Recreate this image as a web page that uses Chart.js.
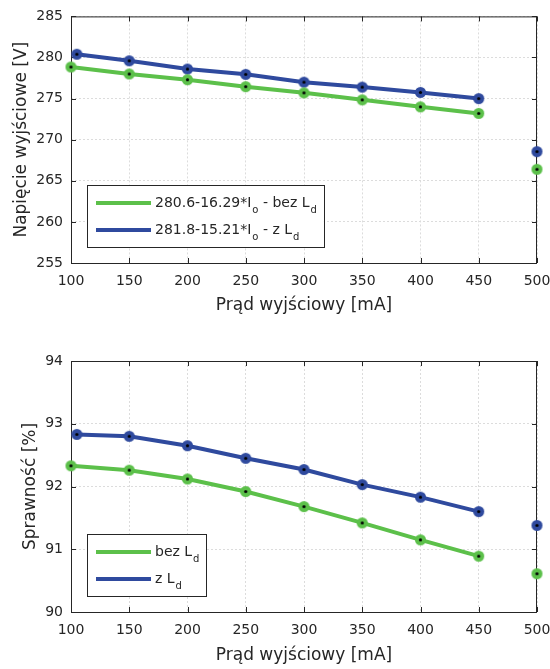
<!DOCTYPE html>
<html>
<head>
<meta charset="utf-8">
<script src="https://cdn.jsdelivr.net/npm/chart.js@4.4.1/dist/chart.umd.min.js"></script>
<style>
  body { margin: 0; background: #fff; }
  #wrap { position: relative; width: 550px; height: 669px; }
  canvas { position: absolute; left: 0; }
</style>
</head>
<body>
<div id="wrap">
  <canvas id="voltChart" width="550" height="320" style="top:0"></canvas>
  <canvas id="effChart" width="550" height="339" style="top:330px"></canvas>
</div>
<script>
// measured points (current in mA)
const currentBezLd = [100, 150, 200, 250, 300, 350, 400, 450, 500];
const currentZLd = [105, 150, 200, 250, 300, 350, 400, 450, 500];

const voltageBezLd = [278.85, 278.0, 277.3, 276.45, 275.7, 274.85, 274.0, 273.2, 266.4];
const voltageZLd = [280.4, 279.6, 278.6, 277.95, 277.0, 276.4, 275.75, 275.0, 268.55];

const effBezLd = [92.33, 92.26, 92.12, 91.92, 91.68, 91.42, 91.15, 90.89, 90.61];
const effZLd = [92.83, 92.80, 92.65, 92.45, 92.27, 92.03, 91.83, 91.60, 91.38];

const voltageLabels = ['280.6-16.29*I_o - bez L_d', '281.8-15.21*I_o - z L_d'];
const effLabels = ['bez L_d', 'z L_d'];

const GREEN = '#5cc04a';
const BLUE = '#2f4a9e';
const AXIS = '#262626';
const FONT = '"DejaVu Sans", sans-serif';

function marker(color) {
  const c = document.createElement('canvas');
  c.width = 13; c.height = 13;
  const g = c.getContext('2d');
  g.fillStyle = color;
  g.beginPath(); g.arc(6.5, 6.5, 5.5, 0, Math.PI * 2); g.fill();
  g.fillStyle = '#000';
  g.beginPath(); g.arc(6.5, 6.5, 1.6, 0, Math.PI * 2); g.fill();
  return c;
}

function series(label, xs, ys, color) {
  return {
    label: label,
    data: xs.map((x, i) => ({ x: x, y: ys[i] })),
    borderColor: color,
    borderWidth: 4,
    pointStyle: marker(color),
    clip: false,
    // last point (500 mA) is not joined to the line
    segment: { borderColor: ctx => xs[ctx.p1DataIndex] === 500 ? 'rgba(0,0,0,0)' : undefined }
  };
}

// text with _x subscripts
function drawRich(ctx, text, x, y, draw) {
  const parts = text.split(/_(.)/);
  parts.forEach((p, i) => {
    const sub = i % 2 === 1;
    ctx.font = (sub ? '10px ' : '14px ') + FONT;
    if (sub) x += 1;
    if (draw) ctx.fillText(p, x, sub ? y + 7 : y);
    x += ctx.measureText(p).width;
  });
  return x;
}

const frame = {
  id: 'frame',
  beforeDatasetsDraw(chart) {
    const { ctx, chartArea: a, scales } = chart;
    ctx.save();
    ctx.strokeStyle = AXIS;
    ctx.lineWidth = 1;
    ctx.strokeRect(a.left + 0.5, a.top + 0.5, a.right - a.left - 1, a.bottom - a.top);
    ctx.beginPath();
    scales.x.ticks.forEach(t => {
      const px = Math.round(scales.x.getPixelForValue(t.value)) + 0.5;
      ctx.moveTo(px, a.bottom); ctx.lineTo(px, a.bottom - 5);
      ctx.moveTo(px, a.top); ctx.lineTo(px, a.top + 5);
    });
    scales.y.ticks.forEach(t => {
      const py = Math.round(scales.y.getPixelForValue(t.value)) + 0.5;
      ctx.moveTo(a.left, py); ctx.lineTo(a.left + 5, py);
      ctx.moveTo(a.right, py); ctx.lineTo(a.right - 5, py);
    });
    ctx.stroke();
    ctx.restore();
  }
};

const innerLegend = {
  id: 'innerLegend',
  afterDatasetsDraw(chart) {
    const { ctx, chartArea: a } = chart;
    const sets = chart.data.datasets;
    ctx.save();
    let w = 0;
    sets.forEach(ds => { w = Math.max(w, drawRich(ctx, ds.label, 0, 0, false)); });
    const bw = 68 + w + 7, bh = 62;
    const bx = a.left + 16, by = a.bottom - 16 - bh;
    ctx.fillStyle = '#fff';
    ctx.fillRect(bx, by, bw, bh);
    ctx.strokeStyle = AXIS;
    ctx.lineWidth = 1;
    ctx.strokeRect(Math.round(bx) + 0.5, Math.round(by) + 0.5, Math.round(bw), Math.round(bh));
    sets.forEach((ds, i) => {
      const y = by + 18 + i * 27;
      ctx.strokeStyle = ds.borderColor;
      ctx.lineWidth = 4;
      ctx.beginPath(); ctx.moveTo(bx + 9, y); ctx.lineTo(bx + 64, y); ctx.stroke();
      ctx.fillStyle = AXIS;
      ctx.textBaseline = 'middle';
      drawRich(ctx, ds.label, bx + 68, y, true);
    });
    ctx.restore();
  }
};

function makeChart(id, opts) {
  return new Chart(document.getElementById(id), {
    type: 'line',
    data: { datasets: opts.datasets },
    options: {
      responsive: false,
      animation: false,
      events: [],
      devicePixelRatio: 1,
      layout: { padding: { left: 0, right: 0, top: opts.top, bottom: 0 } },
      plugins: { legend: { display: false }, tooltip: { enabled: false } },
      scales: {
        x: {
          type: 'linear', min: 100, max: 500,
          afterFit: s => { s.height = 57; s.paddingRight = 13; s.paddingLeft = 0; },
          ticks: { stepSize: 50, color: AXIS, padding: 10, font: { family: FONT, size: 14 } },
          grid: { color: '#dcdcdc', drawTicks: false },
          border: { display: false, dash: [2, 2] },
          title: { display: true, text: 'Prąd wyjściowy [mA]', color: AXIS,
                   font: { family: FONT, size: 17 }, padding: { top: 0, bottom: opts.xTitlePad } }
        },
        y: {
          min: opts.yMin, max: opts.yMax,
          afterFit: s => { s.width = 71; },
          ticks: { stepSize: opts.yStep, color: AXIS, padding: 8, font: { family: FONT, size: 14 } },
          grid: { color: '#dcdcdc', drawTicks: false },
          border: { display: false, dash: [2, 2] },
          title: { display: true, text: opts.yTitle, color: AXIS,
                   font: { family: FONT, size: 17 }, padding: { top: opts.yTitlePad, bottom: 0 } }
        }
      }
    },
    plugins: [frame, innerLegend]
  });
}

makeChart('voltChart', {
  datasets: [
    series(voltageLabels[0], currentBezLd, voltageBezLd, GREEN),
    series(voltageLabels[1], currentZLd, voltageZLd, BLUE)
  ],
  top: 10, yMin: 255, yMax: 285, yStep: 5,
  yTitle: 'Napięcie wyjściowe [V]', yTitlePad: 11, xTitlePad: 4
});

makeChart('effChart', {
  datasets: [
    series(effLabels[0], currentBezLd, effBezLd, GREEN),
    series(effLabels[1], currentZLd, effZLd, BLUE)
  ],
  top: 31, yMin: 90, yMax: 94, yStep: 1,
  yTitle: 'Sprawność [%]', yTitlePad: 20, xTitlePad: 3
});
</script>
</body>
</html>
